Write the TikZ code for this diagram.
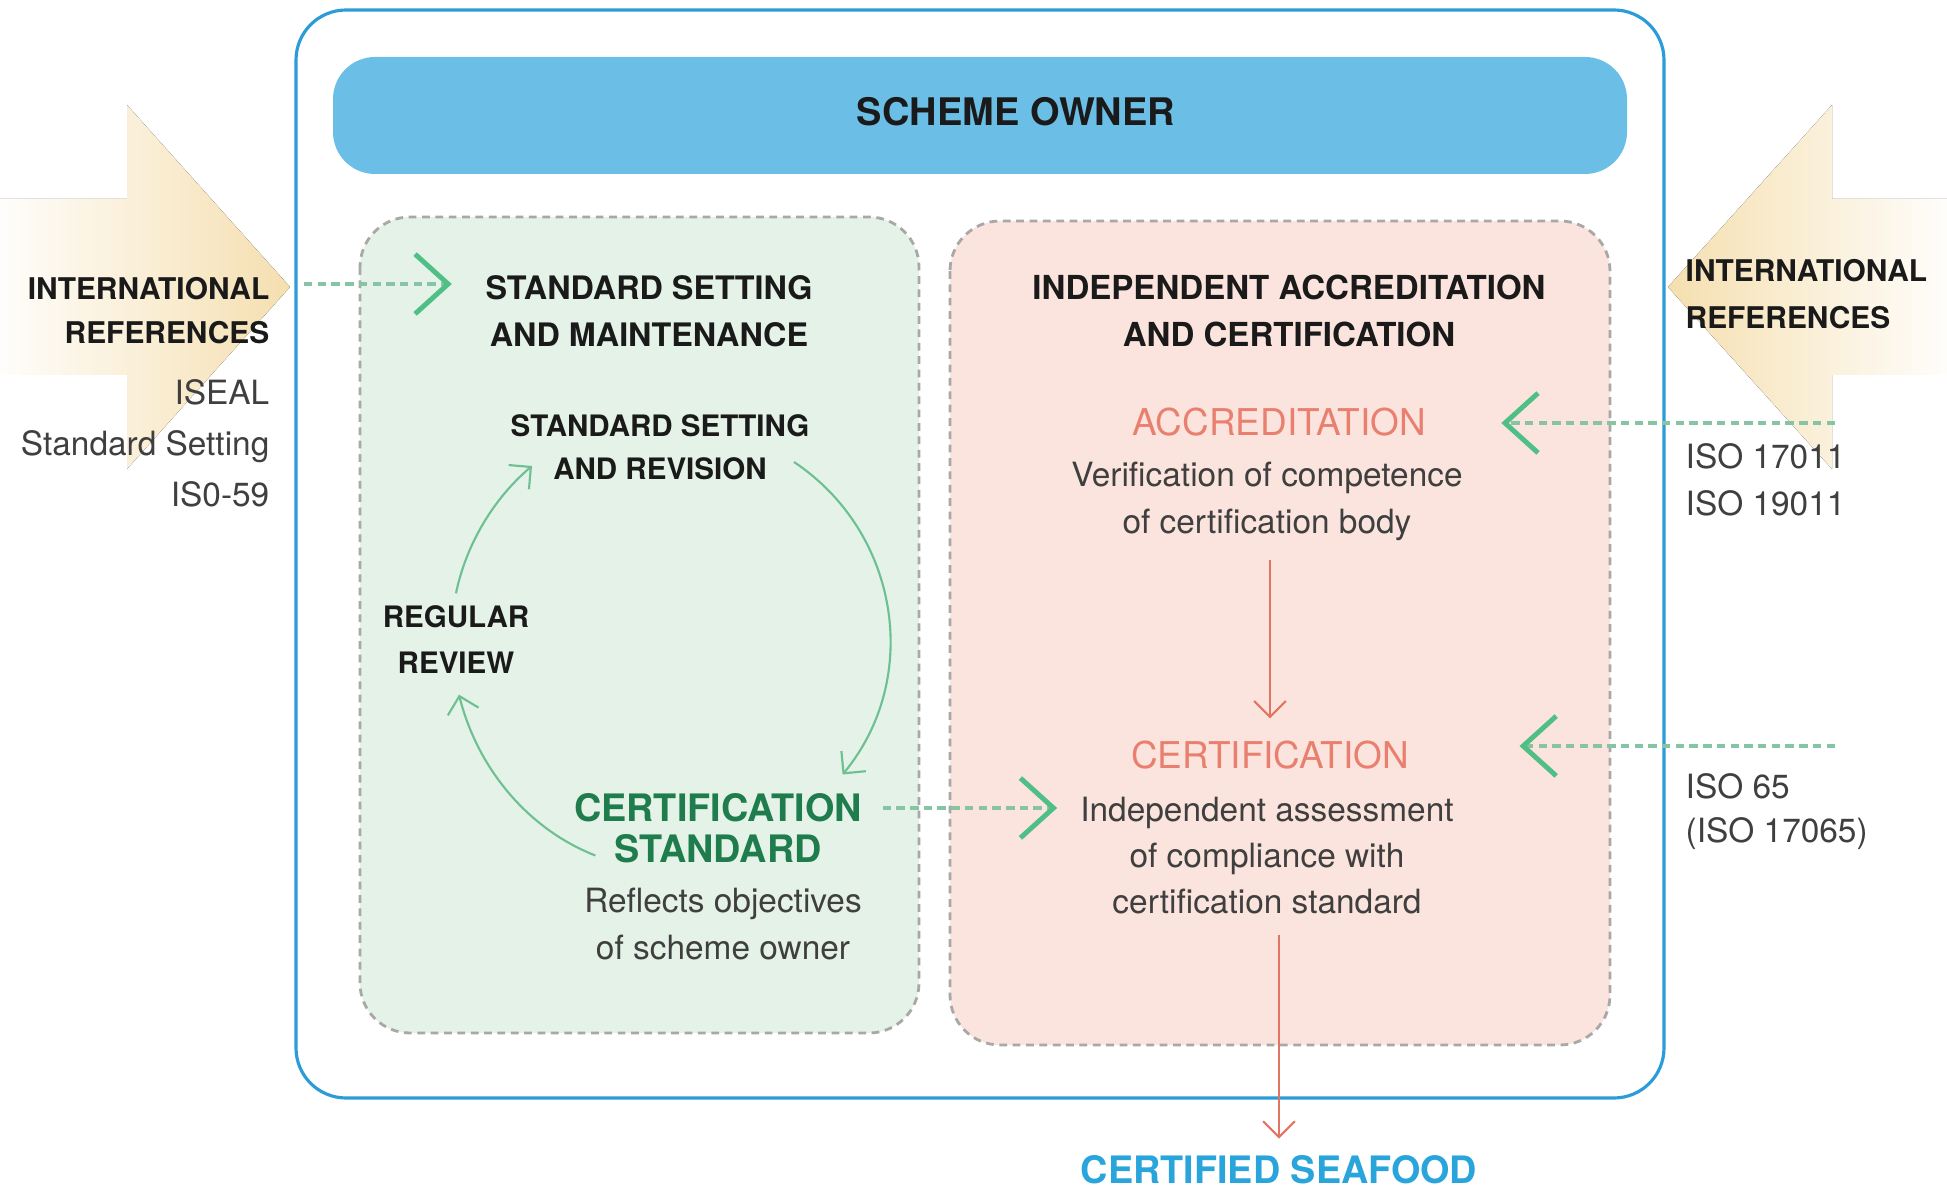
\documentclass[tikz,border=0pt]{standalone}
\usepackage{fontspec}
\setmainfont{TeX Gyre Heros}
\usepackage{tikz}
\usetikzlibrary{calc,arrows.meta,positioning}

\definecolor{ownerblue}{HTML}{6BBFE7}
\definecolor{frameblue}{HTML}{2B9CD8}
\definecolor{seablue}{HTML}{2AA5DC}
\definecolor{panelgreen}{HTML}{E4F2E7}
\definecolor{panelpink}{HTML}{FBE4DD}
\definecolor{panelgray}{HTML}{A8A8A8}
\definecolor{stdgreen}{HTML}{1F7C4C}
\definecolor{cyclegreen}{HTML}{6CC091}
\definecolor{dashgreen}{HTML}{86C4A4}
\definecolor{chevgreen}{HTML}{4FBF86}
\definecolor{salmon}{HTML}{E9806F}
\definecolor{redline}{HTML}{E27463}
\definecolor{refgold}{HTML}{F5DFB0}
\definecolor{inkblack}{HTML}{1A1A1A}
\definecolor{inkgray}{HTML}{3F3F3F}

\tikzset{
	panel/.style={draw=panelgray, line width=0.8pt, dash pattern=on 2.2pt off 1.6pt, rounded corners=0.5cm},
	refdash/.style={dashgreen, line width=1.3pt, dash pattern=on 2.4pt off 1.5pt, -{Straight Barb[length=9.4pt, width=17pt, line width=1.4pt, color=chevgreen]}},
	cyclearrow/.style={cyclegreen, line width=0.6pt, -{Straight Barb[length=4.5pt, width=9pt]}},
	redarrow/.style={redline, line width=0.6pt, -{Straight Barb[length=4.5pt, width=9pt]}},
	ownertxt/.style={font=\fontsize{10.8}{13}\selectfont\bfseries, text=inkblack, inner sep=0pt},
	headtxt/.style={font=\fontsize{9.4}{13.4}\selectfont\bfseries, text=inkblack, align=center, inner sep=0pt},
	cyclelbl/.style={font=\fontsize{8.4}{12.2}\selectfont\bfseries, text=inkblack, align=center, inner sep=0pt},
	stdtxt/.style={font=\fontsize{10.75}{11.7}\selectfont\bfseries, text=stdgreen, align=center, inner sep=0pt},
	bodytxt/.style={font=\fontsize{9.5}{13.1}\selectfont, text=inkgray, align=center, inner sep=0pt},
	redtitle/.style={font=\fontsize{10.5}{12}\selectfont, text=salmon, inner sep=0pt},
	seatxt/.style={font=\fontsize{10.75}{13}\selectfont\bfseries, text=seablue, inner sep=0pt},
	reftitle/.style={font=\fontsize{8.5}{13.4}\selectfont\bfseries, text=inkblack, inner sep=0pt},
	reftxt/.style={font=\fontsize{9.5}{13.4}\selectfont, text=inkgray, inner sep=0pt}
}

\begin{document}
\begin{tikzpicture}[x=0.01cm, y=-0.01cm]
			%%%%% START %%%%%
			\useasboundingbox (0,0) rectangle (1947,1197);
			
			\fill[left color=refgold!5, right color=refgold] (0,199) -- (127,199) -- (127,105) -- (290,287) -- (127,469) -- (127,375) -- (0,375) -- cycle;
			\fill[left color=refgold, right color=refgold!5] (1947,199) -- (1832,199) -- (1832,105) -- (1668,287) -- (1832,469) -- (1832,375) -- (1947,375) -- cycle;
			
			\draw[frameblue, line width=0.9pt, rounded corners=0.5cm] (296,10) rectangle (1664,1098);
			\fill[ownerblue, rounded corners=0.42cm] (333,57) rectangle (1627,174);
			\draw[panel, fill=panelgreen] (360,217) rectangle (919,1033);
			\draw[panel, fill=panelpink] (950,221) rectangle (1610,1045);
			
			\node[ownertxt] (owner) at (1016,112) {SCHEME OWNER};
			\node[headtxt, font=\fontsize{9.2}{13.4}\selectfont\bfseries] (stdset) at (649,311) {STANDARD SETTING\\AND MAINTENANCE};
			\node[headtxt] (indep) at (1289,311) {INDEPENDENT ACCREDITATION\\AND CERTIFICATION};
			
			\node[cyclelbl] (setrev) at (660,447) {STANDARD SETTING\\AND REVISION};
			\node[cyclelbl, font=\fontsize{8.4}{13.1}\selectfont\bfseries] (review) at (456,640) {REGULAR\\REVIEW};
			\node[stdtxt] (certstd) at (718,828) {CERTIFICATION\\STANDARD};
			\node[bodytxt] (reflects) at (723,924) {Reflects objectives\\of scheme owner};
			
			\node[redtitle] (accr) at (1279,422) {ACCREDITATION};
			\node[bodytxt, font=\fontsize{9.5}{13.4}\selectfont] (verif) at (1267,501) {Verification of competence\\of certification body};
			\node[redtitle] (certif) at (1270,755) {CERTIFICATION};
			\node[bodytxt] (indass) at (1267,856) {Independent assessment\\of compliance with\\certification standard};
			\node[seatxt] (seafood) at (1279,1170) {CERTIFIED SEAFOOD};
			
			\node[reftitle, font=\fontsize{8.5}{12.5}\selectfont\bfseries, anchor=east, align=right] (intlL) at (270,311) {INTERNATIONAL\\REFERENCES};
			\node[reftxt, font=\fontsize{9.5}{14.5}\selectfont, anchor=east, align=right] (isealL) at (270,443) {ISEAL\\Standard Setting\\IS0-59};
			\node[reftitle, anchor=west, align=left] (intlR) at (1685,294) {INTERNATIONAL\\REFERENCES};
			\node[reftxt, anchor=west, align=left] (isoA) at (1685,480) {ISO 17011\\ISO 19011};
			\node[reftxt, font=\fontsize{9.5}{12.5}\selectfont, anchor=west, align=left] (isoB) at (1685,812) {ISO 65\\(ISO 17065)};
			
			\coordinate (ltip) at (304,284);
			\coordinate (rtipA) at (1835,423);
			\coordinate (rtipB) at (1835,746);
			\coordinate (midrow) at (0,808);
			
			\draw[refdash] (ltip) -- ($(stdset.west |- ltip)+(-33,0)$);
			\draw[refdash] (rtipA) -- ($(accr.east |- rtipA)+(75,0)$);
			\draw[refdash] (rtipB) -- ($(certif.east |- rtipB)+(110,0)$);
			\draw[refdash, shorten <=5.7pt, shorten >=6.4pt] (certstd.east |- midrow) -- (indass.west |- midrow);
			
			\draw[cyclearrow] ($(review.north)+(0,-12)$) .. controls +(10,-49) and +(-38,32) .. ($(setrev.west)+(22,19)$);
			\draw[cyclearrow] ($(setrev.east)+(-16,15)$) .. controls +(105,70) and +(80,-97) .. ($(certstd.north east)+(-20,-18)$);
			\draw[cyclearrow] ($(certstd.south west)+(22,-8)$) .. controls +(-69,-27) and +(18,72) .. ($(review.south)+(3,20)$);
			
			\draw[redarrow, shorten <=5.4pt, shorten >=6.2pt] (verif.south -| certif.north) -- (certif.north);
			\draw[redarrow, shorten <=5.7pt, shorten >=4.7pt] (indass.south -| seafood.north) -- (seafood.north);
			
			%%%%% END %%%%%
\end{tikzpicture}
\end{document}
